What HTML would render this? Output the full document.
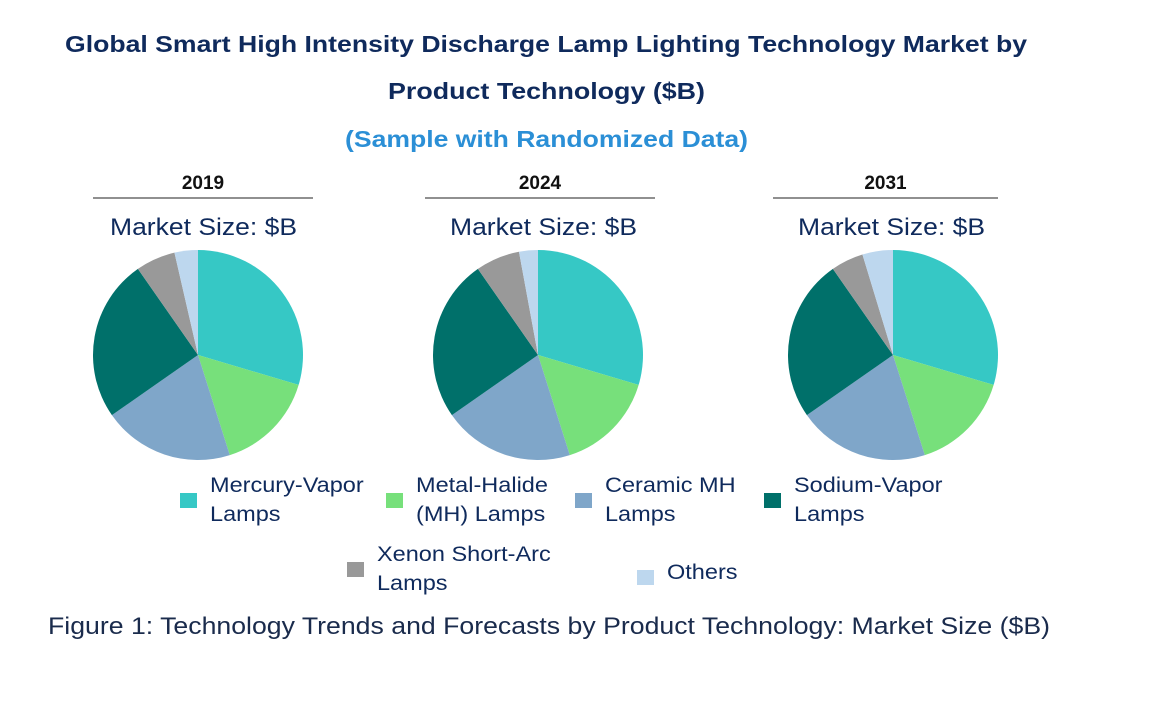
<!DOCTYPE html>
<html><head><meta charset="utf-8"><style>
body{margin:0;background:#fff;width:1170px;height:711px;overflow:hidden}
svg text{font-family:"Liberation Sans",sans-serif}
</style></head><body>
<svg id="c" width="1170" height="711">
<text x="65" y="52" textLength="962" lengthAdjust="spacingAndGlyphs" font-size="23" font-weight="bold" fill="#0f2a5c">Global Smart High Intensity Discharge Lamp Lighting Technology Market by</text>
<text x="388" y="99" textLength="317" lengthAdjust="spacingAndGlyphs" font-size="23" font-weight="bold" fill="#0f2a5c">Product Technology ($B)</text>
<text x="345" y="147" textLength="403" lengthAdjust="spacingAndGlyphs" font-size="23" font-weight="bold" fill="#2b8fd6">(Sample with Randomized Data)</text>
<g id="pies"></g>
<g id="legend"></g>
<text x="48" y="634" textLength="1002" lengthAdjust="spacingAndGlyphs" font-size="24" fill="#1a2b4c">Figure 1: Technology Trends and Forecasts by Product Technology: Market Size ($B)</text>
</svg>
<script>
const years=["2019","2024","2031"];
const categories=["Mercury-Vapor Lamps","Metal-Halide (MH) Lamps","Ceramic MH Lamps","Sodium-Vapor Lamps","Xenon Short-Arc Lamps","Others"];
const share2019=[29.6,15.5,20.2,25.0,6.1,3.6];
const share2024=[29.6,15.5,20.2,25.0,6.8,2.9];
const share2031=[29.6,15.5,20.2,25.0,5.0,4.7];
const colors=["#36c8c5","#77e07b","#7fa6c9","#00706a","#999999","#bdd7ee"];
const NS="http://www.w3.org/2000/svg";
const shares=[share2019,share2024,share2031];
const centersX=[198,538,893], cy=355, r=105;
const lineX=[[93,313],[425,655],[773,998]];
const msX=[110,450,798];
const pies=document.getElementById('pies');
function mk(t,a){const e=document.createElementNS(NS,t);for(const k in a)e.setAttribute(k,a[k]);return e;}
years.forEach((y,i)=>{
  const cx=centersX[i];
  const t=mk('text',{x:(lineX[i][0]+lineX[i][1])/2,y:189,'text-anchor':'middle','font-size':19,'font-weight':'bold',fill:'#111'});
  t.textContent=y;
  
  
  pies.appendChild(t);
  const l=mk('line',{x1:lineX[i][0],x2:lineX[i][1],y1:198,y2:198,stroke:'#222','stroke-width':1});
  
  
  pies.appendChild(l);
  const m=mk('text',{x:msX[i],y:235,'font-size':24,fill:'#0f2a5c',textLength:187,lengthAdjust:'spacingAndGlyphs'});
  m.textContent="Market Size: $B";
  
  
  pies.appendChild(m);
  const vals=shares[i], tot=vals.reduce((a,b)=>a+b,0);
  let a0=0;
  vals.forEach((v,j)=>{
    const a1=a0+v/tot*2*Math.PI;
    const x0=cx+r*Math.sin(a0),y0=cy-r*Math.cos(a0),x1=cx+r*Math.sin(a1),y1=cy-r*Math.cos(a1);
    const p=mk('path',{d:`M${cx},${cy}L${x0},${y0}A${r},${r} 0 ${a1-a0>Math.PI?1:0} 1 ${x1},${y1}Z`,fill:colors[j]});
    
    
    pies.appendChild(p);
    a0=a1;
  });
});
const lg=document.getElementById('legend');
const legPos=[[180,493],[386,493],[575,493],[764,493],[347,562],[637,562]];
const legLines=[["Mercury-Vapor","Lamps"],["Metal-Halide","(MH) Lamps"],["Ceramic MH","Lamps"],["Sodium-Vapor","Lamps"],["Xenon Short-Arc","Lamps"],["Others"]];
categories.forEach((c,j)=>{
  const g=mk('g',{});
  
  
  const [x,y]=legPos[j];
  const two=legLines[j].length>1;
  g.appendChild(mk('rect',{x:x,y:two?y:y+8,width:17,height:15,fill:colors[j]}));
  legLines[j].forEach((s,k)=>{
    const t=mk('text',{x:x+30,y:(two?y-1:y+17)+k*29,'font-size':21,fill:'#0f2a5c',transform:`translate(${x+30},0) scale(1.12,1) translate(${-(x+30)},0)`});
    t.textContent=s;
    g.appendChild(t);
  });
  lg.appendChild(g);
});
</script>
</body></html>
